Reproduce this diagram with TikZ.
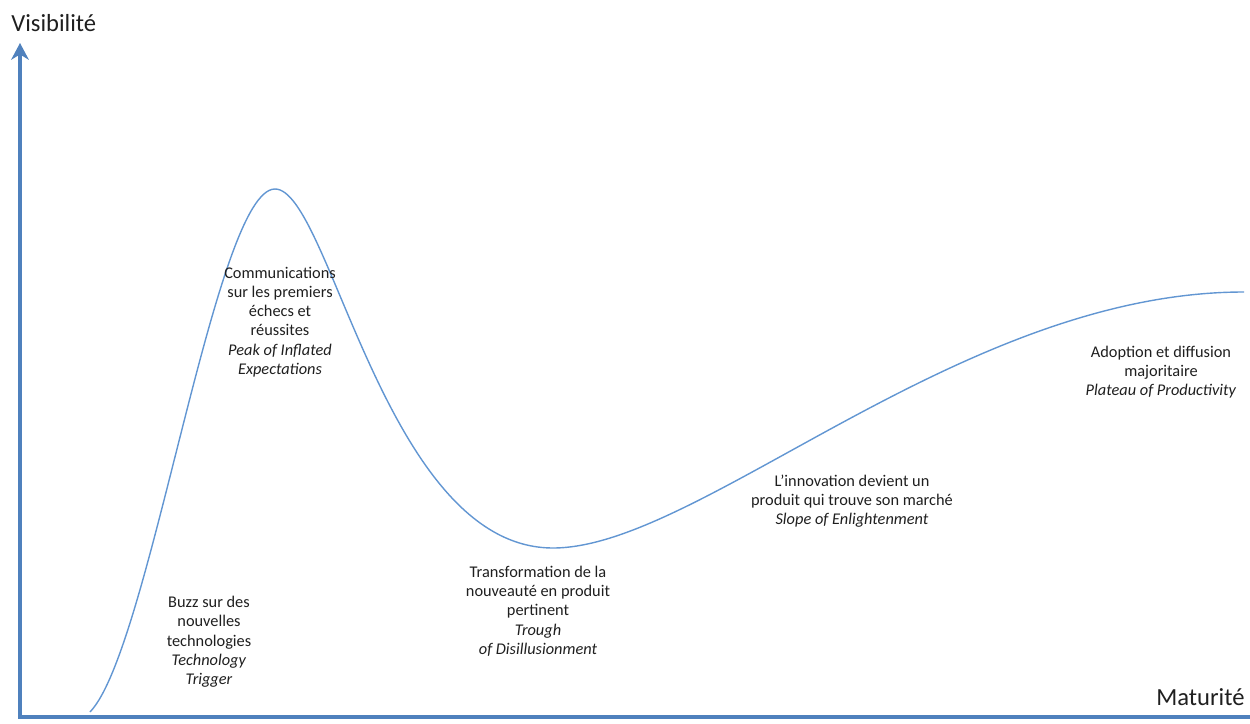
\documentclass[tikz,border=0pt]{standalone}
\usepackage{fontspec}
\setmainfont{Carlito}
\usetikzlibrary{positioning,arrows.meta}
\definecolor{AxisBlue}{RGB}{79,129,189}
\definecolor{CurveBlue}{RGB}{98,150,210}

\begin{document}
\begin{tikzpicture}[
                        x=0.02cm, y=-0.02cm,
                        every node/.style={text=black!88},
                        axisline/.style={{Stealth[length=9.5pt, width=10pt, inset=3pt]}-, line width=2.3pt, AxisBlue},
                        hypecurve/.style={line width=0.8pt, CurveBlue},
                        axislabel/.style={font=\fontsize{14}{16}\selectfont, inner sep=0pt, anchor=base west},
                        phase/.style={font=\fontsize{9.3}{11}\selectfont, align=center, inner sep=0pt}
                    ]
                        \useasboundingbox (0,0) rectangle (1250,723);
                        \coordinate (ytop) at (20,43);
                        \coordinate (origin) at (20,717);
                        \coordinate (xend) at (1250,717);
                        \draw[axisline] (ytop) -- (origin) -- (xend);
                        \node[axislabel] (visib) at (11,32) {Visibilité};
                        \node[axislabel] (matur) at (1156,705) {Maturité};
                        \coordinate (start) at (90,712);
                        \coordinate (peak) at (275,189);
                        \coordinate (trough) at (553,548);
                        \coordinate (plateau end) at (1244,292);
                        \draw[hypecurve] (start) .. controls (150,650) and (215,189) .. (peak)
                            .. controls (330,189) and (385,548) .. (trough)
                            .. controls (700,548) and (960,292) .. (plateau end);
                        \node[phase] (trigger) at (209,642) {Buzz sur des\\nouvelles\\technologies\\\textit{Technology}\\\textit{Trigger}};
                        \node[phase] (inflated) at (280,322) {Communications\\sur les premiers\\échecs et\\réussites\\\textit{Peak of Inflated}\\\textit{Expectations}};
                        \node[phase] (disillusion) at (538,611) {Transformation de la\\nouveauté en produit\\pertinent\\\textit{Trough}\\\textit{of Disillusionment}};
                        \node[phase] (slope) at (852,501) {L’innovation devient un\\produit qui trouve son marché\\\textit{Slope of Enlightenment}};
                        \node[phase] (productivity) at (1161,372) {Adoption et diffusion\\majoritaire\\\textit{Plateau of Productivity}};
                    \end{tikzpicture}
\end{document}
